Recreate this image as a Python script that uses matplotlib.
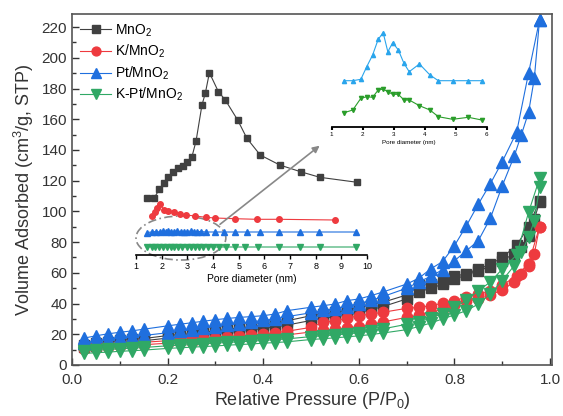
import matplotlib
matplotlib.use("Agg")
import matplotlib.pyplot as plt
from matplotlib.patches import Ellipse
from matplotlib.ticker import MultipleLocator

plt.rcParams['font.family'] = ['Liberation Sans', 'DejaVu Sans']
plt.rcParams['mathtext.default'] = 'regular'

# --- isotherm data (P/P0 vs volume adsorbed) ---
p_ads = [0.025, 0.05, 0.075, 0.1, 0.125, 0.15, 0.2, 0.225, 0.25, 0.275, 0.3, 0.325, 0.35, 0.375,
         0.4, 0.425, 0.45, 0.5, 0.525, 0.55, 0.575, 0.6, 0.625, 0.65, 0.7, 0.725, 0.75, 0.775,
         0.8, 0.825, 0.85, 0.875, 0.9, 0.925, 0.94, 0.955, 0.967, 0.978]
p_des = [0.025, 0.05, 0.075, 0.1, 0.125, 0.15, 0.2, 0.225, 0.25, 0.275, 0.3, 0.325, 0.35, 0.375,
         0.4, 0.425, 0.45, 0.5, 0.525, 0.55, 0.575, 0.6, 0.625, 0.65, 0.7, 0.725, 0.75, 0.775,
         0.8, 0.825, 0.85, 0.875, 0.9, 0.93, 0.955, 0.978]

mno2_ads = [11.5, 12.5, 13.5, 14.5, 15.2, 15.8, 17.5, 18.2, 19, 19.8, 20.6, 21.3, 22, 22.8,
            23.8, 24.8, 26, 29, 30.5, 31.5, 32.5, 34, 36, 38, 43, 47.5, 50, 52.5,
            56, 58.5, 61.5, 64, 68, 72.5, 77, 84, 95, 106]
mno2_des = [13, 14, 15, 16, 16.7, 17.2, 19.2, 19.8, 20.4, 21.3, 22.3, 23.2, 24, 25,
            26, 27, 28.8, 32.1, 33.2, 34.5, 35.5, 37.5, 39, 40.8, 45.6, 52, 52.5, 54,
            57.7, 59.5, 62.5, 65.5, 70, 78, 90, 107]

k_ads = [10.5, 11.2, 11.8, 12.3, 12.8, 13.2, 14.2, 14.7, 15.2, 15.8, 16.3, 16.8, 17.3, 17.8,
         18.4, 19, 19.6, 21.5, 22.5, 23.3, 24, 25, 26.5, 28, 31, 32.5, 34, 36.5,
         39, 41.5, 43, 45.5, 49, 54, 59, 64.5, 72.5, 90]
k_des = [12, 12.7, 13.3, 13.8, 14.3, 14.8, 15.8, 16.3, 16.9, 17.4, 17.9, 18.5, 19, 19.5,
         20.2, 21, 22, 24.5, 27.8, 28.8, 30.5, 32.1, 33.2, 34.3, 36.9, 37.5, 38.6, 40.2,
         41.9, 44.1, 46, 48, 52, 58, 66, 90]

pt_ads = [14.5, 15.5, 16.5, 17.5, 18.3, 19.2, 21, 22, 23, 24, 25, 26, 27, 28,
          29, 30, 31.5, 34, 35.5, 36.5, 38, 40, 42, 44.5, 50, 54, 57.7, 62,
          67.9, 74.4, 81, 95.5, 116.7, 136, 150, 164.5, 186.6, 224.8]
pt_des = [17.5, 19, 20.3, 21.3, 22.2, 23.3, 25.5, 26.5, 27.5, 28.5, 29.5, 30.3, 31, 31.5,
          32.1, 33.2, 35.4, 37.6, 38.6, 39.7, 41.9, 43, 45.1, 47.5, 52.7, 56.4, 62.5, 67.3,
          77.7, 90.7, 104.8, 118, 132.4, 151.5, 190.1, 224.8]

kpt_ads = [7.5, 8, 8.4, 8.9, 9.3, 9.7, 10.8, 11.2, 11.6, 12, 12.4, 12.9, 13.3, 13.7,
           14.2, 14.6, 15.1, 16.6, 17.1, 17.7, 18.3, 19, 19.8, 20.8, 23, 25, 27.3, 30,
           32.6, 35.4, 39.7, 46.2, 55, 64.7, 73.4, 83.1, 94, 115.7]
kpt_des = [9, 9.6, 10.1, 10.6, 11, 11.4, 12.5, 12.9, 13.3, 13.8, 14.2, 14.7, 15.1, 15.5,
           16, 16.5, 17, 18.5, 19, 19.6, 20.2, 21, 22, 23.5, 26.5, 28, 30.5, 33.5,
           37.5, 42, 48.4, 54, 62.5, 71.6, 99.4, 121.5]

# --- pore size distribution inset (arbitrary units) ---
psd_mno2_d = [1.42, 1.70, 1.91, 2.09, 2.26, 2.46, 2.65, 2.85, 3.0, 3.18, 3.34, 3.57, 3.70, 3.86,
              4.21, 4.48, 4.96, 5.32, 5.84, 6.60, 7.41, 8.16, 9.62]
psd_mno2 = [56.7, 56.7, 65.7, 71.7, 77.7, 83.3, 86.7, 89, 93.3, 98.3, 114, 150, 161.7, 182.3,
            163.3, 155, 135, 116.7, 100, 90, 83.3, 77.7, 72.7]
psd_k_d = [1.61, 1.74, 1.81, 1.93, 2.09, 2.26, 2.48, 2.71, 2.95, 3.30, 3.72, 4.07, 4.85, 5.70,
           6.58, 8.75]
psd_k = [39, 43.3, 46.7, 51, 45, 44.3, 43.3, 41, 40, 39, 37.7, 37, 36.3, 35.7, 35.7, 35]
psd_pt_d = [1.44, 1.61, 1.78, 1.93, 2.06, 2.16, 2.26, 2.36, 2.48, 2.61, 2.74, 2.87, 3.00, 3.13,
            3.26, 3.39, 3.52, 3.72, 4.07, 4.42, 4.85, 5.31, 5.82, 6.58, 7.38, 8.13, 9.59]
psd_pt = [22.5, 23, 23.5, 23, 24, 23.5, 24.5, 23.5, 23.5, 24, 23.5, 23.5, 23.5, 24,
          23.5, 23.5, 23.5, 23, 23, 23, 23, 23, 23, 23, 23, 23, 23]
psd_kpt_d = [1.44, 1.61, 1.74, 1.91, 2.04, 2.19, 2.35, 2.48, 2.65, 2.80, 2.97, 3.13, 3.30, 3.45,
             3.62, 3.81, 4.01, 4.24, 4.50, 4.85, 5.24, 5.76, 6.58, 7.38, 8.16, 9.59]
psd_kpt = [8, 8.5, 8, 8.5, 8, 8.5, 8, 8, 8, 8, 8, 8, 8, 8,
           8, 8.5, 8, 8, 8, 8, 8, 8, 8, 8, 8, 8]

# --- zoomed inset (small pores) ---
zoom_d = [1.40, 1.68, 1.94, 2.13, 2.32, 2.50, 2.66, 2.81, 2.97, 3.15, 3.33, 3.50, 3.83, 4.17,
          4.44, 4.90, 5.41, 5.84]
zoom_pt = [46, 46, 47.4, 60, 71.7, 87.4, 94, 75, 84, 76.7, 63.4, 55, 62.7, 51.7,
           46, 46, 46, 46]
zoom_kpt = [14, 16.7, 28.4, 30, 29.4, 36.7, 37.7, 35, 32.4, 32.4, 26.7, 26.7, 21, 16.7,
            10, 7.4, 9.4, 6.7]

C_GRAY = '#404040'
C_RED = '#ee3a3f'
C_BLUE = '#1f6fde'
C_GREEN = '#30a865'

W, H = 563, 416
fig = plt.figure(figsize=(W / 100, H / 100), dpi=100)
fig.patch.set_facecolor('white')

def px_axes(x0, y0, x1, y1):
    # pixel box (left, top, right, bottom) -> figure fraction
    return [x0 / W, 1 - y1 / H, (x1 - x0) / W, (y1 - y0) / H]

ax = fig.add_axes(px_axes(72, 14, 552, 365))

series = [
    ('MnO$_2$', mno2_ads, mno2_des, C_GRAY, 's', 7),
    ('K/MnO$_2$', k_ads, k_des, C_RED, 'o', 7.5),
    ('Pt/MnO$_2$', pt_ads, pt_des, C_BLUE, '^', 8),
    ('K-Pt/MnO$_2$', kpt_ads, kpt_des, C_GREEN, 'v', 8),
]
for label, ads, des, col, mk, ms in series:
    ax.plot(p_des, des, color=col, marker=mk, ms=ms, lw=0.8, mec=col)
    ax.plot(p_ads, ads, color=col, marker=mk, ms=ms, lw=0.8, mec=col, label=label)

ax.set_xlim(0, 1.004)
ax.set_ylim(0, 228.5)
ax.xaxis.set_major_locator(MultipleLocator(0.2))
ax.xaxis.set_minor_locator(MultipleLocator(0.1))
ax.yaxis.set_major_locator(MultipleLocator(20))
ax.yaxis.set_minor_locator(MultipleLocator(10))
ax.tick_params(which='both', direction='in', labelsize=11, colors='#333333')
ax.tick_params(which='major', length=5, width=1)
ax.tick_params(which='minor', length=3, width=1)
ax.tick_params(axis='x', pad=6)
ax.xaxis.set_major_formatter(matplotlib.ticker.FormatStrFormatter('%.1f'))
for s in ax.spines.values():
    s.set_color('#555555')
    s.set_linewidth(1.2)
ax.set_xlabel('Relative Pressure (P/P$_0$)', fontsize=13, color='#333333', labelpad=2)
ax.set_ylabel('Volume Adsorbed (cm$^3$/g, STP)', fontsize=13, color='#333333', labelpad=4)

leg = ax.legend(loc='upper left', frameon=False, fontsize=10, handlelength=2.2,
                handletextpad=0.3, labelspacing=0.3, borderaxespad=0.3, borderpad=0.3,
                markerscale=0.85)

# --- inset: pore size distribution ---
ax1 = fig.add_axes(px_axes(136, 65, 367, 255))
ax1.patch.set_alpha(0)
ax1.plot(psd_mno2_d, psd_mno2, color=C_GRAY, marker='s', ms=4, lw=0.8)
ax1.plot(psd_k_d, psd_k, color=C_RED, marker='o', ms=4, lw=0.8)
ax1.plot(psd_pt_d, psd_pt, color=C_BLUE, marker='^', ms=4, lw=0.8)
ax1.plot(psd_kpt_d, psd_kpt, color=C_GREEN, marker='v', ms=4, lw=0.8)
ax1.set_xlim(1, 10)
ax1.set_ylim(0, 190)
for k in ['top', 'right', 'left']:
    ax1.spines[k].set_visible(False)
ax1.spines['bottom'].set_linewidth(1.2)
ax1.set_yticks([])
ax1.set_xticks(range(1, 11))
ax1.tick_params(axis='x', direction='out', length=3, width=1, labelsize=6.5, pad=2)
ax1.set_xlabel('Pore diameter (nm)', fontsize=7.5, labelpad=2)

ell = Ellipse((2.75, 17), 3.5, 44, fill=False, ec='#888888', lw=1.2, ls=(0, (5, 2, 1, 2)),
              clip_on=False)
ax1.add_patch(ell)
ax1.annotate('', xy=(8.24, 111), xytext=(4.19, 29),
             arrowprops=dict(arrowstyle='-|>', color='#888888', lw=1.2, mutation_scale=10),
             annotation_clip=False)

# --- inset: zoom of small pores ---
ax2 = fig.add_axes(px_axes(331.7, 26.7, 486.7, 126.7))
ax2.patch.set_alpha(0)
ax2.plot(zoom_d, zoom_pt, color='#2aa5ec', marker='^', ms=3, lw=0.8)
ax2.plot(zoom_d, zoom_kpt, color='#2a9d2a', marker='v', ms=3, lw=0.8)
ax2.set_xlim(1, 6)
ax2.set_ylim(0, 100)
for k in ['top', 'right', 'left']:
    ax2.spines[k].set_visible(False)
ax2.spines['bottom'].set_linewidth(1.3)
ax2.set_yticks([])
ax2.set_xticks(range(1, 7))
ax2.tick_params(axis='x', direction='out', length=2.5, width=1.5, labelsize=4.5, pad=1.5)
ax2.set_xlabel('Pore diameter (nm)', fontsize=4.5, labelpad=2)

fig.savefig('out.png', dpi=100)
